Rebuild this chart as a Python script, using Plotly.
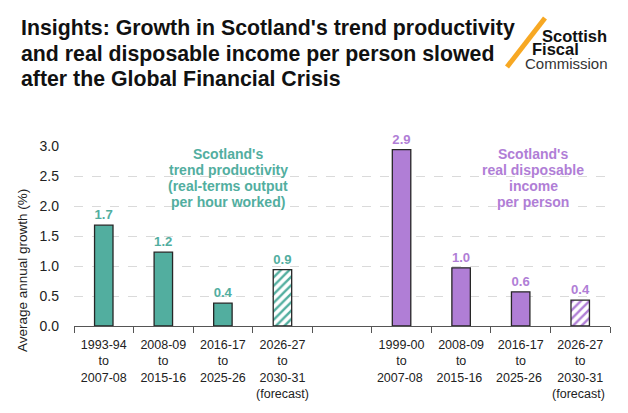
import plotly.graph_objects as go

categories = ["1993-94<br>to<br>2007-08", "2008-09<br>to<br>2015-16", "2016-17<br>to<br>2025-26",
              "2026-27<br>to<br>2030-31<br>(forecast)", " ",
              "1999-00<br>to<br>2007-08 ", "2008-09<br>to<br>2015-16 ", "2016-17<br>to<br>2025-26 ",
              "2026-27<br>to<br>2030-31<br>(forecast) "]
productivity = [1.68, 1.23, 0.38, 0.94]
income = [2.94, 0.97, 0.57, 0.43]
forecast_flags = [False, False, False, True]
yticks = [0.0, 0.5, 1.0, 1.5, 2.0, 2.5, 3.0]
title_lines = ["Insights: Growth in Scotland's trend productivity",
               "and real disposable income per person slowed",
               "after the Global Financial Crisis"]
teal_lines = ["Scotland's", "trend productivity", "(real-terms output", "per hour worked)"]
purple_lines = ["Scotland's", "real disposable", "income", "per person"]

TEAL = "#52AE9F"
PURPLE = "#B07ED6"
FONT = "Liberation Sans, Arial, sans-serif"

# plot area in pixels
L, R, T, B = 74, 610, 146, 326
def px(x):
    return (x - L) / (R - L)
def py(y):
    return (B - y) / (B - T)

fig = go.Figure()

def add_series(cats, vals, color):
    actual_x = [c for c, f in zip(cats, forecast_flags) if not f]
    actual_y = [v for v, f in zip(vals, forecast_flags) if not f]
    fc_x = [c for c, f in zip(cats, forecast_flags) if f]
    fc_y = [v for v, f in zip(vals, forecast_flags) if f]
    common = dict(width=0.31, texttemplate="%{y:.1f}", textposition="outside",
                  textfont=dict(family=FONT, size=14, color=color, weight="bold"),
                  cliponaxis=False, showlegend=False, hoverinfo="skip")
    fig.add_trace(go.Bar(x=actual_x, y=actual_y,
                         marker=dict(color=color, line=dict(color="#262626", width=1.3)),
                         **common))
    fig.add_trace(go.Bar(x=fc_x, y=fc_y,
                         marker=dict(color="white", line=dict(color="#262626", width=1.3),
                                     pattern=dict(shape="/", fillmode="overlay", fgcolor=color,
                                                  bgcolor="white", fgopacity=1, size=6, solidity=0.4)),
                         **common))

add_series(categories[:4], productivity, TEAL)
add_series(categories[5:], income, PURPLE)

fig.update_layout(
    width=628, height=413,
    margin=dict(l=L, r=628 - R, t=T, b=413 - B, autoexpand=False),
    paper_bgcolor="white", plot_bgcolor="white",
    font=dict(family=FONT, size=13, color="#222222"),
    barmode="overlay",
)
fig.update_xaxes(
    type="category", categoryorder="array", categoryarray=categories,
    tickvals=categories, ticktext=categories, tickangle=0, automargin=False,
    range=[-0.5, 8.5],
    showline=True, linecolor="#555555", linewidth=1.4,
    ticks="outside", tickson="boundaries", ticklen=6, tickcolor="#555555", tickwidth=1.4,
    showgrid=False, tickfont=dict(size=12.5, color="#222222"), ticklabelstandoff=7,
)
fig.update_yaxes(
    range=[0, 3.0], tickvals=yticks, ticktext=[f"{v:.1f}" for v in yticks],
    showgrid=True, gridcolor="#DADADA", griddash="dash", gridwidth=1,
    zeroline=False, showline=False, ticks="", automargin=False,
    tickfont=dict(size=14, color="#222222"), ticklabelstandoff=14,
)

# y-axis title
fig.add_annotation(xref="paper", yref="paper", x=px(22), y=py(271), xanchor="center", yanchor="middle",
                   text="Average annual growth (%)", textangle=-90, showarrow=False,
                   font=dict(size=13.5, color="#222222"))

# title
for i, line in enumerate(title_lines):
    fig.add_annotation(xref="paper", yref="paper", x=px(19), y=py(28 + 25.5 * i),
                       xanchor="left", yanchor="middle", text=f"<b>{line}</b>",
                       showarrow=False, font=dict(size=21.3, color="#111111"))

# series labels
for i, line in enumerate(teal_lines):
    fig.add_annotation(xref="paper", yref="paper", x=px(228), y=py(154 + 15.9 * i),
                       xanchor="center", yanchor="middle", text=f"<b>{line}</b>",
                       showarrow=False, font=dict(size=14, color=TEAL))
for i, line in enumerate(purple_lines):
    fig.add_annotation(xref="paper", yref="paper", x=px(533), y=py(154 + 15.9 * i),
                       xanchor="center", yanchor="middle", text=f"<b>{line}</b>",
                       showarrow=False, font=dict(size=14, color=PURPLE))

# logo
fig.add_shape(type="line", xref="paper", yref="paper",
              x0=px(507), y0=py(67), x1=px(545), y1=py(18),
              line=dict(color="#F7A823", width=5))
fig.add_annotation(xref="paper", yref="paper", x=px(540), y=py(35.5), xanchor="left", yanchor="middle",
                   text="<b>Scottish</b>", showarrow=False, font=dict(size=16.5, color="#111111"))
fig.add_annotation(xref="paper", yref="paper", x=px(530), y=py(49.5), xanchor="left", yanchor="middle",
                   text="<b>Fiscal</b>", showarrow=False, font=dict(size=16.5, color="#111111"))
fig.add_annotation(xref="paper", yref="paper", x=px(523), y=py(63.5), xanchor="left", yanchor="middle",
                   text="Commission", showarrow=False, font=dict(size=15, color="#333333"))

fig.write_html("out.html")
